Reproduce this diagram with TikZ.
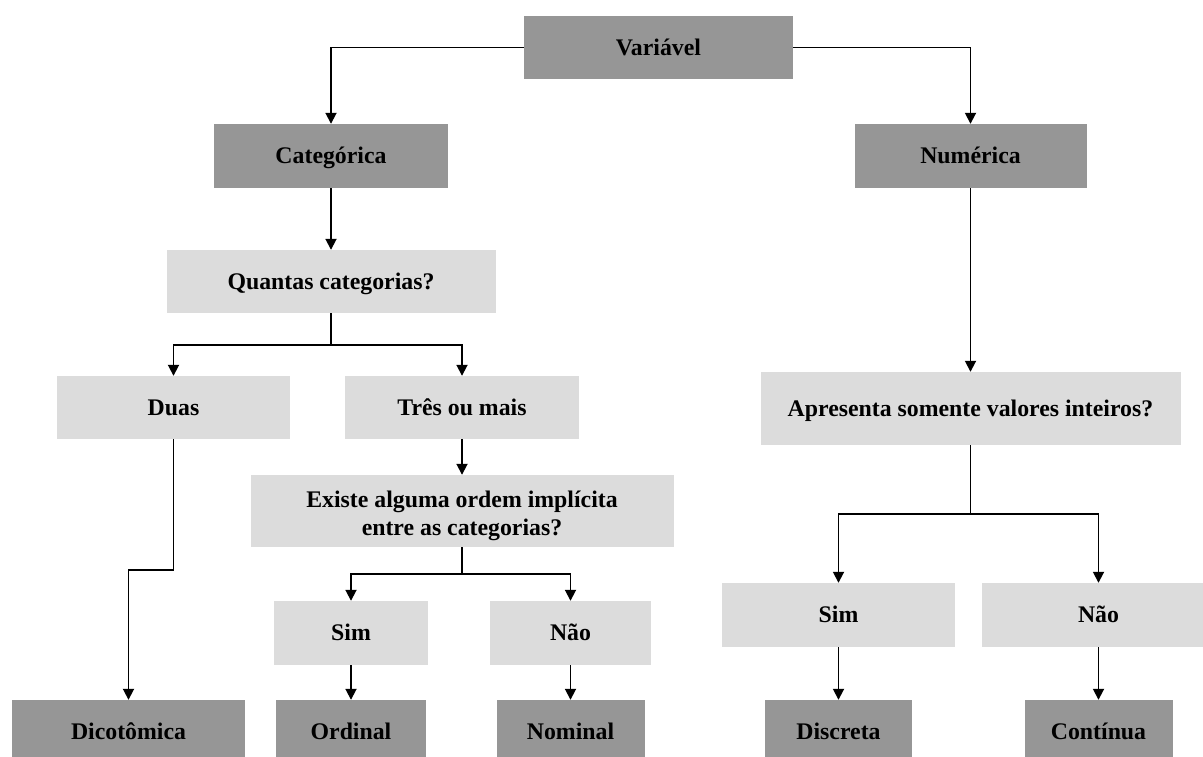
\documentclass[tikz,border=0pt]{standalone}
\usepackage{fontspec}
\setmainfont{Liberation Serif}
\usetikzlibrary{arrows.meta}
\definecolor{darkbox}{RGB}{150,150,150}
\definecolor{lightbox}{RGB}{220,220,220}
\tikzset{
  basebox/.style={draw=none, inner sep=0pt, anchor=center,
    font=\fontsize{23.8}{28.5}\selectfont\bfseries, text=black},
  onel/.style={text height=1.62em, text depth=0.1em},
  darknode/.style={basebox, onel, fill=darkbox},
  lightnode/.style={basebox, onel, fill=lightbox},
  twonode/.style={basebox, fill=lightbox},
  conn/.style={line width=1.8pt, black},
  arr/.style={conn, -{Triangle[length=11pt, width=11pt]}}
}
\begin{document}
\begin{tikzpicture}[x=1pt, y=-1pt]
\useasboundingbox (0,0) rectangle (1203,756);
\clip (0,0) rectangle (1203,756);
% top level
\node[darknode, minimum width=269pt, minimum height=63pt] (V) at (658.5,47.5) {Variável};
\node[darknode, minimum width=234pt, minimum height=64pt] (C) at (331,156) {Categórica};
\node[darknode, minimum width=232pt, minimum height=64pt] (N) at (970.5,156) {Numérica};
% categorical branch
\node[lightnode, minimum width=329pt, minimum height=63pt] (Q) at (331,281.5) {Quantas categorias?};
\node[lightnode, minimum width=233pt, minimum height=63pt] (D) at (173.5,407.5) {Duas};
\node[lightnode, minimum width=234pt, minimum height=63pt] (T) at (462,407.5) {Três ou mais};
\node[twonode, minimum width=423pt, minimum height=72pt] (E) at (462,511)
  {\raisebox{-5pt}[\height][\depth]{\begin{tabular}{@{}c@{}}Existe alguma ordem implícita\\entre as categorias?\end{tabular}}};
\node[lightnode, minimum width=154pt, minimum height=64pt] (S1) at (351,633) {Sim};
\node[lightnode, minimum width=161pt, minimum height=64pt] (N1) at (570.5,633) {Não};
\node[darknode, minimum width=233pt, minimum height=64pt] (Dic) at (128.5,732) {Dicotômica};
\node[darknode, minimum width=150pt, minimum height=64pt] (Ord) at (351,732) {Ordinal};
\node[darknode, minimum width=148pt, minimum height=64pt] (Nom) at (570.5,732) {Nominal};
% numerical branch
\node[lightnode, minimum width=420pt, minimum height=73pt] (A) at (970.5,408.5) {Apresenta somente valores inteiros?};
\node[lightnode, minimum width=233pt, minimum height=64pt] (S2) at (838.5,615) {Sim};
\node[lightnode, minimum width=233pt, minimum height=64pt] (N2) at (1098.5,615) {Não};
\node[darknode, minimum width=147pt, minimum height=64pt] (Dis) at (838.5,732) {Discreta};
\node[darknode, minimum width=148pt, minimum height=64pt] (Con) at (1098.5,732) {Contínua};
% junction coordinates
\coordinate (q1) at (331,345);
\coordinate (d1) at (173.5,570);
\coordinate (e1) at (462,574);
\coordinate (a1) at (970.5,514);
% connectors
\draw[arr] (V.west) -| (C.north);
\draw[arr] (V.east) -| (N.north);
\draw[arr] (C.south) -- (Q.north);
\draw[conn] (Q.south) -- (q1);
\draw[arr] (q1) -| (D.north);
\draw[arr] (q1) -| (T.north);
\draw[arr] (T.south) -- (E.north);
\draw[arr] (D.south) -- (d1) -| (Dic.north);
\draw[conn] (E.south) -- (e1);
\draw[arr] (e1) -| (S1.north);
\draw[arr] (e1) -| (N1.north);
\draw[arr] (S1.south) -- (Ord.north);
\draw[arr] (N1.south) -- (Nom.north);
\draw[arr] (N.south) -- (A.north);
\draw[conn] (A.south) -- (a1);
\draw[arr] (a1) -| (S2.north);
\draw[arr] (a1) -| (N2.north);
\draw[arr] (S2.south) -- (Dis.north);
\draw[arr] (N2.south) -- (Con.north);
\end{tikzpicture}
\end{document}
